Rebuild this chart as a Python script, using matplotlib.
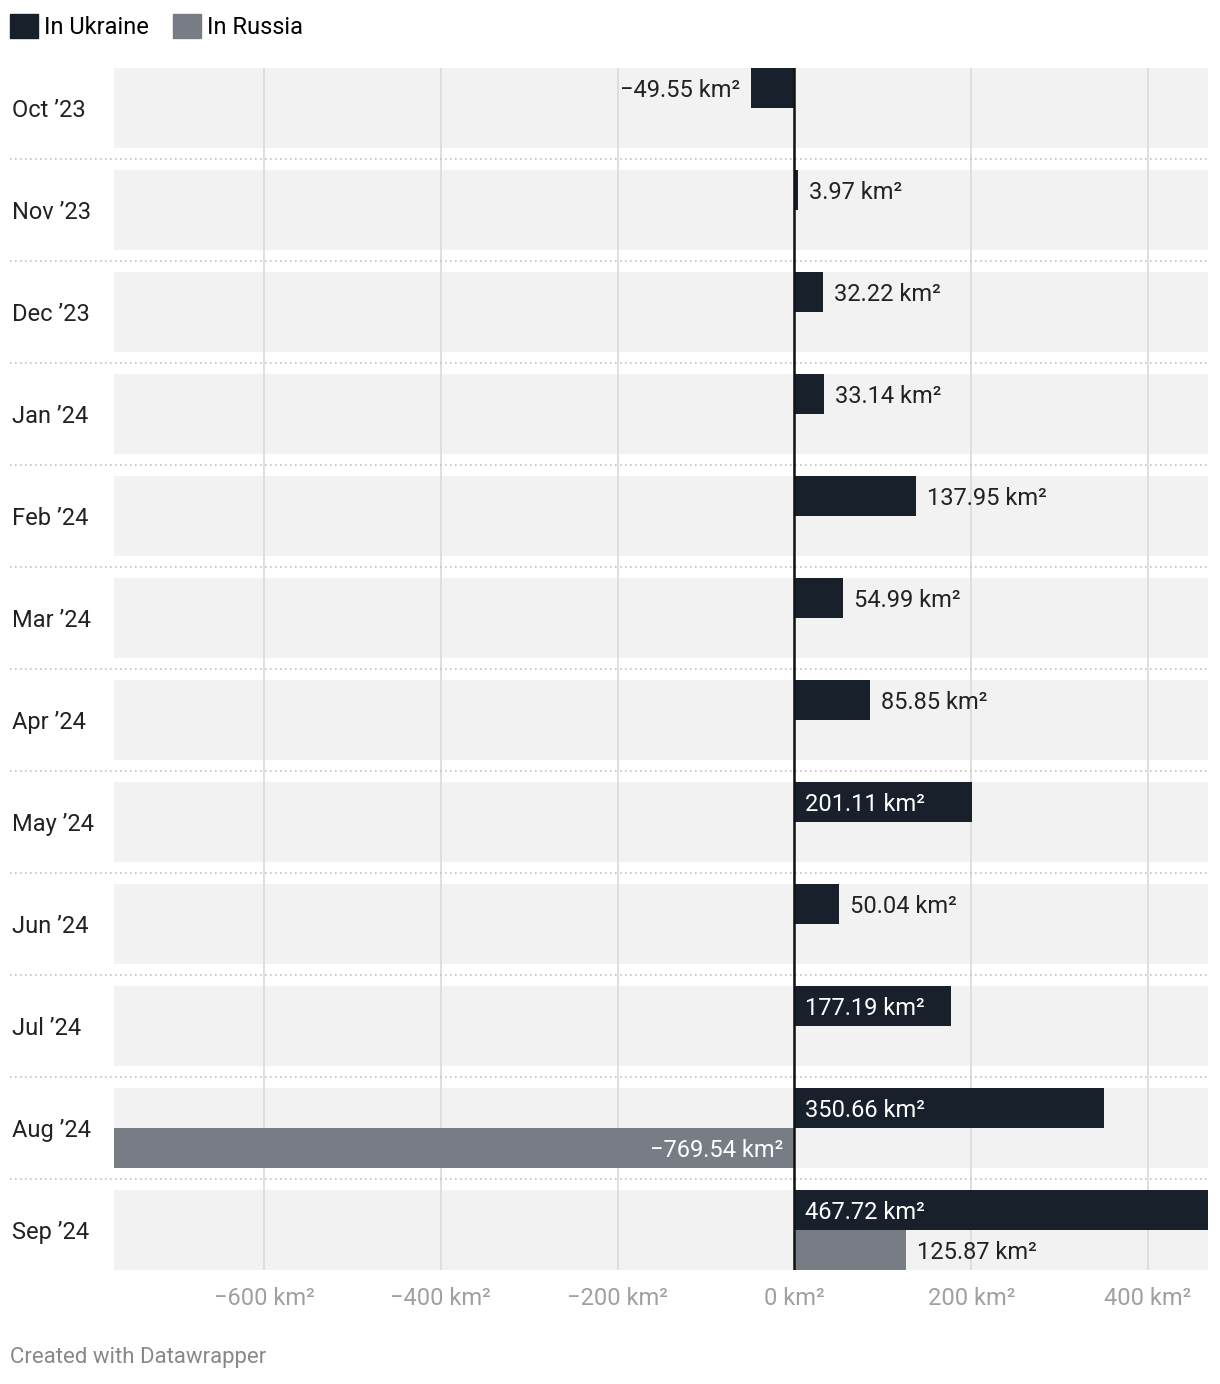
import matplotlib.pyplot as plt
from matplotlib.patches import Patch
from matplotlib.transforms import blended_transform_factory

plt.rcParams['font.family'] = ['Roboto', 'DejaVu Sans']

months = ["Oct \u201923", "Nov \u201923", "Dec \u201923", "Jan \u201924", "Feb \u201924", "Mar \u201924",
          "Apr \u201924", "May \u201924", "Jun \u201924", "Jul \u201924", "Aug \u201924", "Sep \u201924"]
ukraine = [-49.55, 3.97, 32.22, 33.14, 137.95, 54.99, 85.85, 201.11, 50.04, 177.19, 350.66, 467.72]
russia = [None, None, None, None, None, None, None, None, None, None, -769.54, 125.87]
ticks = [-600, -400, -200, 0, 200, 400]

c_ua = '#18212b'
c_ru = '#777c85'
fs = 17

W, H = 1220, 1384
fig = plt.figure(figsize=(W / 100, H / 100), dpi=100)
ax = fig.add_axes([114 / W, 1 - 1270 / H, (1208 - 114) / W, (1270 - 68) / H])

half = 0.392
xmin, xmax = -769.54, 467.72
ax.set_xlim(xmin, xmax)
ax.set_ylim(len(months) - 1 + half, -half)

for t in ticks:
    ax.axvline(t, color='#dcdcdc', lw=1.3, zorder=1)

for i in range(len(months)):
    ax.axhspan(i - half, i + half, color='#f2f2f2', zorder=0, lw=0)

sep_tr = blended_transform_factory(fig.transFigure, ax.transData)
for i in range(len(months) - 1):
    ax.plot([10 / W, 1208 / W], [i + 0.5, i + 0.5], transform=sep_tr, clip_on=False,
            color='#c4c4c4', lw=1.2, ls=(0, (1, 2)), zorder=1)

def fmt(v):
    s = f"{abs(v):.2f} km\u00b2"
    return ("\u2212" + s) if v < 0 else s

def label(v, y):
    inside = abs(v) > 150
    off = 11 / 0.885
    kw = dict(va='center_baseline', fontsize=fs, zorder=4)
    if v >= 0:
        if inside:
            ax.text(off, y, fmt(v), ha='left', color='white', **kw)
        else:
            ax.text(v + off, y, fmt(v), ha='left', color='#222222', **kw)
    else:
        if inside:
            ax.text(-off, y, fmt(v), ha='right', color='white', **kw)
        else:
            ax.text(v - off, y, fmt(v), ha='right', color='#222222', **kw)

for i, v in enumerate(ukraine):
    ax.barh(i - half / 2, v, height=half, color=c_ua, zorder=3, lw=0)
    label(v, i - half / 2)

for i, v in enumerate(russia):
    if v is None:
        continue
    ax.barh(i + half / 2, v, height=half, color=c_ru, zorder=3, lw=0)
    label(v, i + half / 2)

ax.axvline(0, color='#111111', lw=1.8, zorder=5)

lab_tr = blended_transform_factory(fig.transFigure, ax.transData)
for i, m in enumerate(months):
    ax.text(12 / W, i, m, transform=lab_tr, ha='left', va='center_baseline', fontsize=fs, color='#222222')

ax.set_xticks(ticks)
ax.set_xticklabels([("\u2212" if t < 0 else "") + f"{abs(t)} km\u00b2" for t in ticks])
ax.tick_params(axis='x', length=0, pad=12, labelsize=fs, labelcolor='#a0a0a0')
ax.set_yticks([])
for s in ax.spines.values():
    s.set_visible(False)

handles = [Patch(color=c_ua, label='In Ukraine'), Patch(color=c_ru, label='In Russia')]
fig.legend(handles=handles, loc='upper left', bbox_to_anchor=(10 / W, 1 - 14 / H), ncol=2,
           frameon=False, fontsize=fs, handlelength=1.2, handleheight=1.2,
           handletextpad=0.25, columnspacing=1.0, borderpad=0, borderaxespad=0)

fig.text(10 / W, 1 - 1358 / H, "Created with Datawrapper", fontsize=16, color='#888888',
         ha='left', va='center')

fig.savefig('out.png', dpi=100)
